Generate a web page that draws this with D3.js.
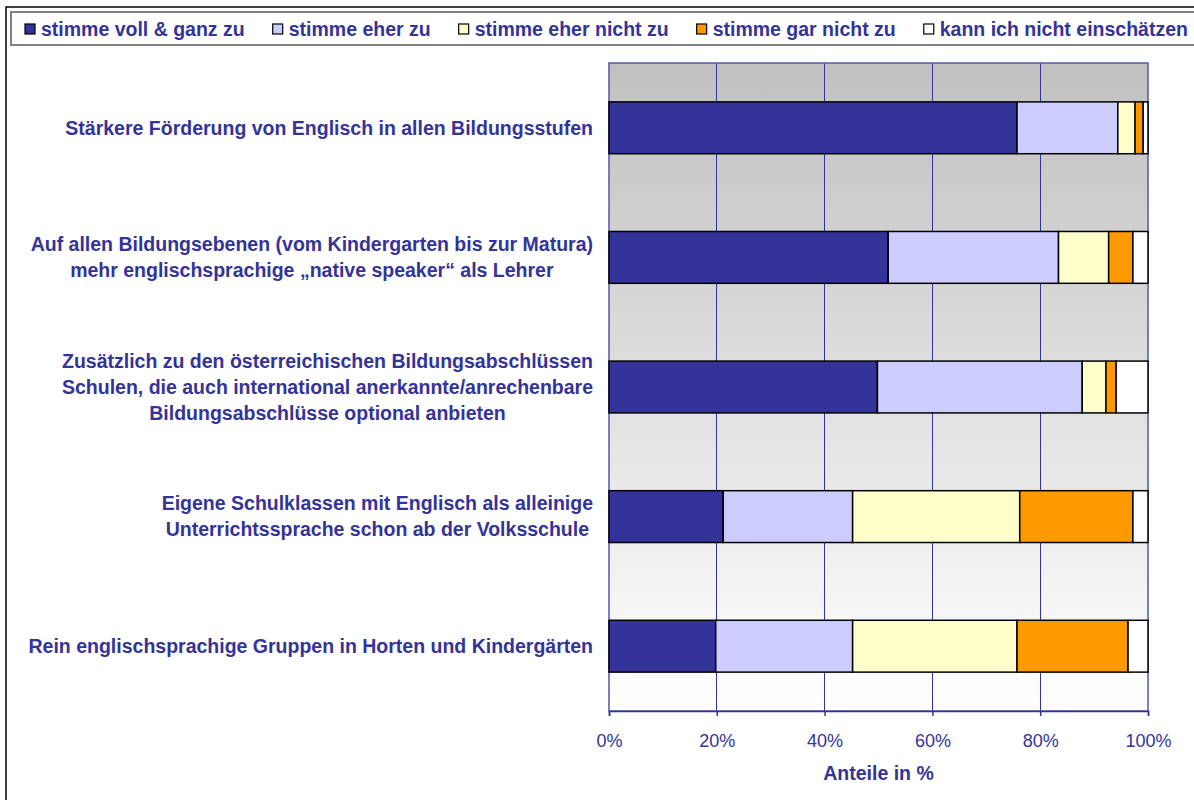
<!DOCTYPE html>
<html>
<head>
<meta charset="utf-8">
<script src="https://cdn.jsdelivr.net/npm/d3@7"></script>
<style>
  html, body { margin: 0; padding: 0; background: #fff; }
  svg { display: block; }
  text { font-family: "Liberation Sans", Arial, sans-serif; fill: #333399; }
</style>
</head>
<body>
<svg id="chart" width="1194" height="800"></svg>
<script>
// ---- data ----
const categories = [
  ["Stärkere Förderung von Englisch in allen Bildungsstufen"],
  ["Auf allen Bildungsebenen (vom Kindergarten bis zur Matura)", "mehr englischsprachige „native speaker“ als Lehrer"],
  ["Zusätzlich zu den österreichischen Bildungsabschlüssen", "Schulen, die auch international anerkannte/anrechenbare", "Bildungsabschlüsse optional anbieten"],
  ["Eigene Schulklassen mit Englisch als alleinige", "Unterrichtssprache schon ab der Volksschule"],
  ["Rein englischsprachige Gruppen in Horten und Kindergärten"]
];
const seriesNames = ["stimme voll & ganz zu", "stimme eher zu", "stimme eher nicht zu", "stimme gar nicht zu", "kann ich nicht einschätzen"];
const vollGanz  = [75.7, 51.8, 49.8, 21.2, 19.8];
const eherZu    = [18.7, 31.6, 38.0, 24.0, 25.4];
const eherNicht = [3.2, 9.3, 4.4, 31.0, 30.5];
const garNicht  = [1.5, 4.5, 1.9, 21.0, 20.6];
const kannNicht = [0.9, 2.8, 5.9, 2.8, 3.7];
const xTicks = [0, 20, 40, 60, 80, 100];
const xTickLabels = ["0%", "20%", "40%", "60%", "80%", "100%"];
const axisTitle = "Anteile in %";

// ---- styles ----
const seriesColors = ["#333399", "#CCCCFF", "#FFFFCC", "#FF9900", "#FFFFFF"];
const textColor = "#333399";
const boldSize = 19.5;

const svg = d3.select("#chart");
const defs = svg.append("defs");
const grad = defs.append("linearGradient").attr("id", "bg").attr("x1", 0).attr("y1", 0).attr("x2", 0).attr("y2", 1);
grad.append("stop").attr("offset", "0%").attr("stop-color", "#c0c0c0");
grad.append("stop").attr("offset", "100%").attr("stop-color", "#ffffff");

// outer frame
svg.append("rect").attr("x", 6).attr("y", 7).attr("width", 1300).attr("height", 900)
  .attr("fill", "#fff").attr("stroke", "#000").attr("stroke-width", 1.5);

const plot = { left: 609, right: 1148, top: 63, bottom: 711 };
const x = d3.scaleLinear().domain([0, 100]).range([plot.left, plot.right]);
const y = d3.scaleBand().domain(d3.range(categories.length)).range([plot.top, plot.bottom])
  .paddingInner(0.6).paddingOuter(0.3);

// plot background
svg.append("rect").attr("x", plot.left).attr("y", plot.top)
  .attr("width", plot.right - plot.left).attr("height", plot.bottom - plot.top)
  .attr("fill", "url(#bg)");

// vertical gridlines
svg.append("g").selectAll("line").data(xTicks.slice(1, -1)).join("line")
  .attr("x1", d => x(d)).attr("x2", d => x(d))
  .attr("y1", plot.top).attr("y2", plot.bottom)
  .attr("stroke", "#333399").attr("stroke-width", 1).attr("shape-rendering", "crispEdges");

// plot border
svg.append("rect").attr("x", plot.left).attr("y", plot.top)
  .attr("width", plot.right - plot.left).attr("height", plot.bottom - plot.top)
  .attr("fill", "none").attr("stroke", "#5555aa").attr("stroke-width", 1.5);

// stacked bars
const seriesValues = [vollGanz, eherZu, eherNicht, garNicht, kannNicht];
const rows = categories.map((c, i) => {
  const o = { idx: i };
  seriesNames.forEach((s, j) => o[s] = seriesValues[j][i]);
  return o;
});
const stack = d3.stack().keys(seriesNames)(rows);
svg.append("g").selectAll("g").data(stack).join("g")
  .attr("fill", (d, i) => seriesColors[i])
  .selectAll("rect").data(d => d).join("rect")
  .attr("x", d => x(d[0])).attr("width", d => x(d[1]) - x(d[0]))
  .attr("y", d => y(d.data.idx)).attr("height", y.bandwidth())
  .attr("stroke", "#000").attr("stroke-width", 1.5);

// category labels
const labelRight = 593, lineH = 26;
const labG = svg.append("g");
categories.forEach((lines, i) => {
  const g = labG.append("g");
  const cy = y(i) + y.bandwidth() / 2;
  const texts = lines.map((l, k) => g.append("text")
    .attr("y", cy + (k - (lines.length - 1) / 2) * lineH)
    .attr("dy", "0.35em")
    .attr("text-anchor", "middle")
    .attr("font-weight", "bold").attr("font-size", boldSize)
    .text(l));
  const maxW = d3.max(texts, t => t.node().getComputedTextLength());
  texts.forEach(t => t.attr("x", labelRight - maxW / 2));
});

// x axis
const axis = d3.axisBottom(x).tickValues(xTicks).tickFormat((d, i) => xTickLabels[i])
  .tickSize(5).tickPadding(18);
const ax = svg.append("g").attr("transform", `translate(0,${plot.bottom})`).call(axis);
ax.select(".domain").attr("stroke", "#333399").attr("stroke-width", 1.5);
ax.selectAll(".tick line").attr("stroke", "#333399").attr("stroke-width", 1.5);
ax.selectAll(".tick text").attr("font-size", 18).attr("fill", textColor)
  .attr("font-family", "'Liberation Sans', Arial, sans-serif");

svg.append("text").attr("x", (plot.left + plot.right) / 2).attr("y", 780)
  .attr("text-anchor", "middle").attr("font-weight", "bold").attr("font-size", boldSize)
  .text(axisTitle);

// legend
svg.append("rect").attr("x", 11).attr("y", 12).attr("width", 1300).attr("height", 33)
  .attr("fill", "#fff").attr("stroke", "#808080").attr("stroke-width", 2);
let lx = 25;
const legG = svg.append("g");
seriesNames.forEach((s, i) => {
  legG.append("rect").attr("x", lx).attr("y", 24).attr("width", 10).attr("height", 10)
    .attr("fill", seriesColors[i]).attr("stroke", "#000").attr("stroke-width", 1.2);
  const t = legG.append("text").attr("x", lx + 16).attr("y", 29).attr("dy", "0.35em")
    .attr("font-weight", "bold").attr("font-size", boldSize).text(s);
  lx = lx + 16 + t.node().getComputedTextLength() + 28;
});
</script>
</body>
</html>
